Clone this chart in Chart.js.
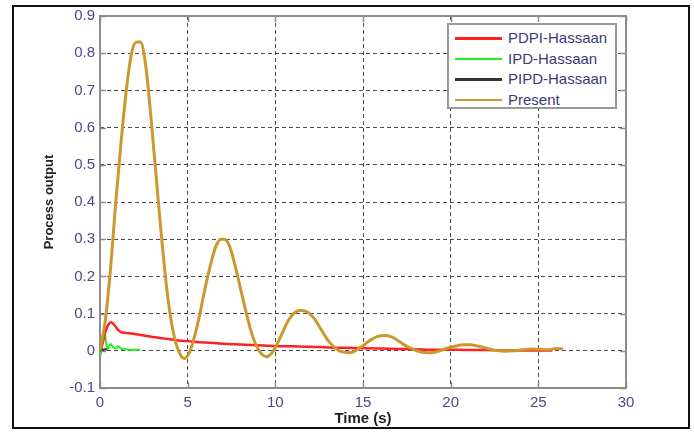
<!DOCTYPE html>
<html>
<head>
<meta charset="utf-8">
<script src="https://cdn.jsdelivr.net/npm/chart.js@4"></script>
<style>
  html, body { margin:0; padding:0; background:#fff; }
  #wrap { position:relative; width:694px; height:432px; overflow:hidden; }
  #c { position:absolute; left:0; top:0; }
  #frame { position:absolute; left:12px; top:5px; width:678px; height:424px; box-sizing:border-box; border:2px solid #111; pointer-events:none; }
  #legend { position:absolute; left:447px; top:23px; width:170px; height:86px; box-sizing:border-box; border:2px solid #9a9a9a; background:#fff; font-family:"Liberation Sans", Arial, sans-serif; font-size:15px; color:#3a3a72; }
  .row { position:absolute; left:0; height:20px; width:100%; }
  .sw { position:absolute; left:6px; width:47px; top:9px; height:2.5px; }
  .lb { position:absolute; left:59px; top:1px; line-height:18px; white-space:nowrap; }
</style>
</head>
<body>
<div id="wrap">
  <canvas id="c" width="694" height="432"></canvas>
  <div id="frame"></div>
  <div id="legend"></div>
</div>
<script>
// ---- data ----
const seriesNames = ["PDPI-Hassaan", "IPD-Hassaan", "PIPD-Hassaan", "Present"];
const seriesColors = ["#ff2020", "#22ee22", "#333333", "#cc972c"];

const pdpiT = [0, 0.15, 0.3, 0.5, 0.65, 0.8, 1.0, 1.2, 1.5, 2.0, 2.5, 3.0, 3.5, 4.0, 4.5, 5.0, 6.0, 7.0, 8.0, 9.0, 10.0, 11.0, 12.0, 13.0, 14.0, 15.0, 16.0, 17.0, 18.0, 19.0, 20.0, 21.0, 22.0, 23.0, 24.0, 25.0, 25.8];
const pdpiY = [0, 0.02, 0.05, 0.072, 0.077, 0.07, 0.058, 0.05, 0.048, 0.045, 0.041, 0.037, 0.034, 0.031, 0.028, 0.026, 0.022, 0.019, 0.017, 0.015, 0.013, 0.012, 0.011, 0.009, 0.008, 0.007, 0.006, 0.005, 0.004, 0.003, 0.003, 0.002, 0.002, 0.001, 0.001, 0.001, 0.001];

const ipdT = [0, 0.05, 0.15, 0.25, 0.35, 0.45, 0.6, 0.75, 0.9, 1.05, 1.2, 1.4, 1.7, 2.0, 2.3];
const ipdY = [0, -0.01, 0.04, 0.055, 0.02, 0.005, 0.018, 0.01, 0.006, 0.012, 0.006, 0.004, 0.003, 0.003, 0.003];

const pipdT = [0, 0.1, 0.2, 0.3, 0.4];
const pipdY = [0, 0.004, 0.003, 0.004, 0.003];

const presentT = [0, 0.3, 0.6, 0.9, 1.2, 1.5, 1.8, 2.1, 2.3, 2.6, 2.9, 3.2, 3.5, 3.8, 4.1, 4.4, 4.8, 5.1, 5.4, 5.7, 6.0, 6.3, 6.6, 6.9, 7.1, 7.4, 7.7, 8.0, 8.3, 8.6, 8.9, 9.2, 9.5, 9.8, 10.1, 10.4, 10.7, 11.0, 11.4, 11.8, 12.2, 12.6, 13.0, 13.4, 13.8, 14.3, 14.7, 15.0, 15.4, 15.8, 16.3, 16.7, 17.1, 17.5, 17.9, 18.3, 18.8, 19.3, 19.8, 20.3, 20.7, 21.1, 21.6, 22.1, 22.6, 23.1, 23.6, 24.1, 24.6, 25.1, 25.6, 26.0, 26.4];
const presentY = [0, 0.08, 0.22, 0.40, 0.56, 0.70, 0.80, 0.83, 0.83, 0.77, 0.63, 0.47, 0.31, 0.17, 0.07, 0.01, -0.021, -0.005, 0.04, 0.10, 0.17, 0.23, 0.28, 0.30, 0.30, 0.28, 0.23, 0.17, 0.11, 0.055, 0.015, -0.008, -0.016, -0.006, 0.018, 0.048, 0.078, 0.098, 0.108, 0.105, 0.088, 0.058, 0.028, 0.008, -0.003, -0.005, 0.004, 0.014, 0.028, 0.038, 0.041, 0.036, 0.024, 0.012, 0.003, -0.003, -0.005, -0.001, 0.007, 0.013, 0.016, 0.016, 0.012, 0.006, 0.001, -0.001, 0.0, 0.003, 0.005, 0.004, 0.003, 0.006, 0.005];

const xTicks = [0, 5, 10, 15, 20, 25, 30];
const yTicks = [-0.1, 0, 0.1, 0.2, 0.3, 0.4, 0.5, 0.6, 0.7, 0.8, 0.9];
const yTickLabels = ["-0.1", "0", "0.1", "0.2", "0.3", "0.4", "0.5", "0.6", "0.7", "0.8", "0.9"];
const xTitle = "Time (s)";
const yTitle = "Process output";

// ---- build ----
function pts(t, y) { return t.map((v, i) => ({ x: v, y: y[i] })); }
const seriesT = [pdpiT, ipdT, pipdT, presentT];
const seriesY = [pdpiY, ipdY, pipdY, presentY];
const widths = [2.5, 2, 2, 3];
const orders = [2, 3, 1, 0];

const datasets = seriesNames.map((n, i) => ({
  label: n,
  data: pts(seriesT[i], seriesY[i]),
  borderColor: seriesColors[i],
  backgroundColor: seriesColors[i],
  borderWidth: widths[i],
  pointRadius: 0,
  fill: false,
  cubicInterpolationMode: 'monotone',
  order: orders[i]
}));

// HTML legend
const leg = document.getElementById('legend');
const rowTops = [3, 23.5, 44, 64.5];
seriesNames.forEach((n, i) => {
  const r = document.createElement('div');
  r.className = 'row';
  r.style.top = rowTops[i] + 'px';
  const s = document.createElement('div');
  s.className = 'sw';
  s.style.background = seriesColors[i];
  const l = document.createElement('div');
  l.className = 'lb';
  l.textContent = n;
  r.appendChild(s); r.appendChild(l);
  leg.appendChild(r);
});

const boxPlugin = {
  id: 'box',
  beforeDatasetsDraw(chart) {
    const { ctx, chartArea: a, scales: { x, y } } = chart;
    ctx.save();
    ctx.strokeStyle = '#8c8c8c';
    ctx.lineWidth = 2;
    ctx.strokeRect(a.left, a.top, a.right - a.left, a.bottom - a.top);
    ctx.lineWidth = 1.5;
    ctx.beginPath();
    xTicks.forEach(v => {
      const px = Math.round(x.getPixelForValue(v)) + 0.5;
      ctx.moveTo(px, a.bottom); ctx.lineTo(px, a.bottom - 6);
      ctx.moveTo(px, a.top); ctx.lineTo(px, a.top + 6);
    });
    yTicks.forEach(v => {
      const py = Math.round(y.getPixelForValue(v)) + 0.5;
      ctx.moveTo(a.left, py); ctx.lineTo(a.left + 6, py);
      ctx.moveTo(a.right, py); ctx.lineTo(a.right - 6, py);
    });
    ctx.stroke();
    ctx.restore();
  }
};

const tickFont = { family: '"Liberation Sans", Arial, sans-serif', size: 15 };
const tickColor = '#4b4a86';
const gridOpts = { color: 'rgba(55,55,55,0.9)', lineWidth: 1, drawTicks: false };

new Chart(document.getElementById('c'), {
  type: 'line',
  data: { datasets },
  plugins: [boxPlugin],
  options: {
    responsive: false,
    animation: false,
    events: [],
    layout: { padding: { left: 38, right: 68, top: 16, bottom: 0 } },
    plugins: { legend: { display: false }, tooltip: { enabled: false } },
    scales: {
      x: {
        type: 'linear', min: 0, max: 30,
        afterBuildTicks: s => { s.ticks = xTicks.map(v => ({ value: v })); },
        afterFit: s => { s.height = 44; },
        border: { display: false, dash: [4, 3] },
        grid: gridOpts,
        ticks: { padding: 6, color: tickColor, font: tickFont, maxRotation: 0, autoSkip: false, callback: v => String(v) },
        title: { display: true, text: xTitle, color: '#222', font: { family: '"Liberation Sans", Arial, sans-serif', size: 15, weight: 'bold' }, padding: { top: 0, bottom: 4 } }
      },
      y: {
        type: 'linear', min: -0.1, max: 0.9,
        afterBuildTicks: s => { s.ticks = yTicks.map(v => ({ value: v })); },
        afterFit: s => { s.width = 62; },
        border: { display: false, dash: [4, 3] },
        grid: gridOpts,
        ticks: { padding: 5, color: tickColor, font: tickFont, autoSkip: false, callback: (v, i) => yTickLabels[i] },
        title: { display: true, text: yTitle, color: '#222', font: { family: '"Liberation Sans", Arial, sans-serif', size: 13, weight: 'bold' }, padding: { top: 4, bottom: 0 } }
      }
    }
  }
});
</script>
</body>
</html>
